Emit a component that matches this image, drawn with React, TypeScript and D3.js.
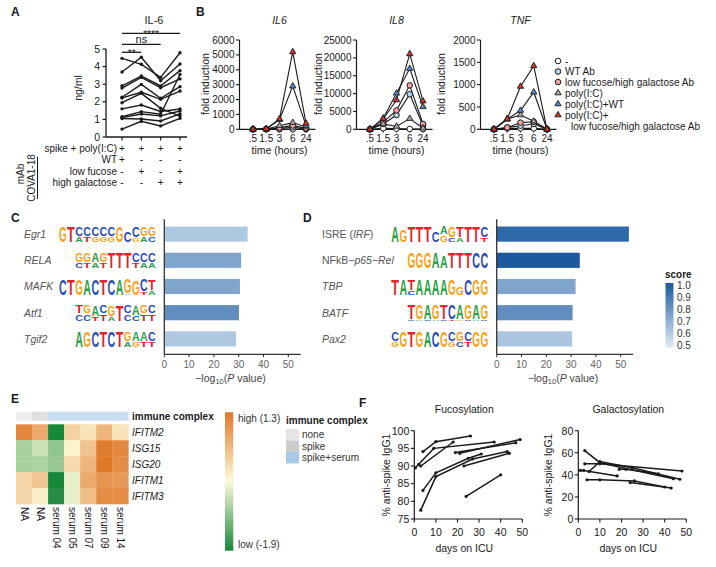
import React from "react";
import * as d3 from "d3";

const FONT = '"Liberation Sans", Arial, Helvetica, sans-serif';
const INK = "#1a1a1a";
const GREY = "#555555";

// ---------------- Panel A data ----------------
const aConditions = ["wt", "lf", "hg", "lfhg"];
const aTicks = [0, 1, 2, 3, 4, 5];
const aSubjects = [
  [4.47, 4.13, 3.39, 4.79],
  [3.69, 4.53, 3.2, 4.15],
  [2.91, 3.47, 2.9, 3.77],
  [2.78, 3.39, 2.8, 3.3],
  [2.26, 2.99, 2.2, 2.86],
  [2.22, 2.54, 2.14, 2.61],
  [1.95, 2.48, 1.63, 1.19],
  [1.6, 1.82, 1.45, 1.59],
  [1.15, 1.44, 1.29, 3.55],
  [1.1, 1.31, 1.2, 1.48],
  [1.05, 1.02, 0.91, 1.31],
  [0.45, 0.89, 0.63, 1.06],
];
const aRowLabels = ["spike + poly(I:C)", "WT", "low fucose", "high galactose"];
const aRowSigns = [
  ["+", "+", "+", "+"],
  ["+", "-", "-", "-"],
  ["-", "+", "-", "+"],
  ["-", "-", "+", "+"],
];
const aSigBars = [
  { from: "wt", to: "lfhg", label: "****" },
  { from: "wt", to: "hg", label: "ns" },
  { from: "wt", to: "lf", label: "**" },
];

// ---------------- Panel B data ----------------
const bTimes = [".5", "1.5", "3", "6", "24"];
const bSeriesNames = [
  "-",
  "WT Ab",
  "low fucose/high galactose Ab",
  "poly(I:C)",
  "poly(I:C)+WT",
  "poly(I:C)+",
];
const bSeriesShapes = ["circle", "circle", "circle", "triangle", "triangle", "triangle"];
const bSeriesColors = ["#ffffff", "#b9d4ee", "#f3a3a3", "#a3a3a3", "#5b86c5", "#d8302c"];
const bIL6 = [
  [0, 0, 0, 0, 0],
  [0, 10, 60, 130, 30],
  [0, 15, 110, 260, 60],
  [0, 20, 240, 450, 150],
  [0, 30, 650, 2900, 250],
  [0, 30, 700, 5200, 400],
];
const bIL8 = [
  [0, 300, 200, 100, 50],
  [0, 1500, 4000, 9800, 1000],
  [0, 2000, 5300, 12300, 1500],
  [0, 1500, 800, 3000, 300],
  [0, 3100, 10100, 17000, 6300],
  [0, 2900, 8200, 21100, 7900],
];
const bTNF = [
  [0, 20, 20, 20, 0],
  [0, 40, 80, 120, 0],
  [0, 40, 150, 170, 0],
  [0, 230, 320, 180, 0],
  [0, 230, 420, 830, 0],
  [0, 230, 960, 1420, 0],
];
const bGenes = ["IL6", "IL8", "TNF"];
const bMax = [6000, 25000, 2000];
const bTicks = [
  [0, 1000, 2000, 3000, 4000, 5000, 6000],
  [0, 5000, 10000, 15000, 20000, 25000],
  [0, 500, 1000, 1500, 2000],
];

// ---------------- Panel C / D data ----------------
const cMotifs = ["Egr1", "RELA", "MAFK", "Atf1", "Tgif2"];
const cPvals = [33.6, 31.0, 30.5, 30.1, 28.9];
const cScores = [0.62, 0.74, 0.74, 0.82, 0.62];
const cLogoMain = ["GTCCCCCGCCGG", "GGAGTTTCCC", "CTGACTCAGGCT", "TGACGTCAGC", "AGCTCTGAAC"];
const cLogoSec = ["..ATGGGT.GAC", "CTAT...TAA", "........A.TA", "CCTTAGCCTT", "......AGTT"];
const cLogoH = ["995555596655", "5555999555", "999999998876", "4464694544", "9999995555"];

const dMotifs = ["ISRE", "NFkB", "TBP", "BATF", "Pax2"];
const dPvals = [53.3, 33.5, 31.8, 30.6, 30.4];
const dScores = [0.95, 1.0, 0.74, 0.82, 0.63];
const dLogoMain = ["AGTTTCAGTTTC", "GGGAATTTCC", "TATAAAAGGCGG", "TGAGTCAGAG", "CGTGACGCGCGG"];
const dLogoSec = ["C.C...GCAC.T", ".....A....", "..C......C..", "CACACTGCAC", "G......GCT.."];
const dLogoH = ["979996466996", "9999799999", "996999994999", "8888888888", "599999955599"];
const pTicks = [0, 10, 20, 30, 40, 50];
const scoreTicks = [1.0, 0.9, 0.8, 0.7, 0.6, 0.5];

// ---------------- Panel E data ----------------
const eSamples = ["NA", "NA ", "serum 04", "serum 05", "serum 07", "serum 09", "serum 14"];
const eComplex = ["none", "spike", "spike+serum", "spike+serum", "spike+serum", "spike+serum", "spike+serum"];
const eGenes = ["IFITM2", "ISG15", "ISG20", "IFITM1", "IFITM3"];
const eValues = [
  [1.1, 0.7, -1.9, 0.2, 0.0, 0.55, 0.0],
  [-0.9, -0.65, -1.05, -0.2, 0.4, 1.25, 1.1],
  [-0.9, -0.85, -1.0, 0.1, 0.55, 1.3, 1.05],
  [0.15, 0.35, -1.9, -0.45, 0.7, 0.95, 0.9],
  [0.15, -0.15, -1.8, -0.45, 0.45, 1.05, 1.05],
];
const eComplexLevels = ["none", "spike", "spike+serum"];
const eComplexColors = ["#e5e5e5", "#cccccc", "#a8c8e8"];

// ---------------- Panel F data ----------------
const fFucLines = [
  [[4, 94.1], [10, 96.9], [26, 98.5]],
  [[0.5, 89.5], [9, 95.0], [37, 96.8]],
  [[2, 90.5], [3, 90.0], [18, 96.8]],
  [[19, 93.8], [47, 96.6]],
  [[21, 93.6], [49, 97.5]],
  [[4, 83.1], [10, 88.1], [25, 92.2], [31, 93.4]],
  [[3, 77.5], [10, 87.0], [27, 92.0], [43, 94.1]],
  [[23, 90.0], [44, 93.6]],
  [[24, 81.4], [40, 87.5]],
];
const fGalLines = [
  [[3, 62], [10, 51], [44, 36.5]],
  [[3, 50], [10, 50], [48, 43.5]],
  [[1, 44], [2.5, 44], [18, 39]],
  [[5, 43], [10, 52], [25, 46.5], [47, 36]],
  [[4, 35.5], [10, 35.5], [26, 34.5], [40, 29]],
  [[24, 33], [43, 28]],
  [[19, 45], [22, 45], [37, 41]],
];
const fDayTicks = [0, 10, 20, 30, 40, 50];
const fFucTicks = [75, 80, 85, 90, 95, 100];
const fGalTicks = [0, 20, 40, 60, 80];

const LETTER_COL: Record<string, string> = { A: "#2ca048", C: "#2a4db5", G: "#f5a21c", T: "#e0252b" };

function Txt(props: any) {
  return <text fontFamily={FONT} fontSize={10} fill={INK} {...props} />;
}

// ---------------- Panel A ----------------
function PanelA() {
  const x = d3.scalePoint<string>().domain(aConditions).range([122, 180]);
  const y = d3.scaleLinear().domain([0, 5]).range([137, 49]);
  const line = d3
    .line<number>()
    .x((_, i) => x(aConditions[i]) as number)
    .y((d) => y(d));
  const sigY = [33.3, 44.3, 52.3];
  const rowY = [151.5, 163, 174.5, 186];
  return (
    <g>
      <Txt x={11} y={16} fontWeight="bold" fontSize={12}>A</Txt>
      <Txt x={154} y={23.5} textAnchor="middle" fontSize={11}>IL-6</Txt>
      {aSigBars.map((s, i) => {
        const x1 = x(s.from) as number;
        const x2 = x(s.to) as number;
        return (
          <g key={i}>
            <line x1={x1} x2={x2} y1={sigY[i]} y2={sigY[i]} stroke={INK} strokeWidth={1.3} />
            <Txt
              x={(x1 + x2) / 2}
              y={s.label === "ns" ? sigY[i] - 1.2 : sigY[i] + 4.2}
              textAnchor="middle"
              fontSize={s.label === "ns" ? 11 : 10}
            >
              {s.label}
            </Txt>
          </g>
        );
      })}
      <line x1={106} x2={106} y1={y(5)} y2={y(0)} stroke={INK} strokeWidth={1.3} />
      {aTicks.map((t) => (
        <g key={t}>
          <line x1={102.5} x2={106} y1={y(t)} y2={y(t)} stroke={INK} strokeWidth={1.2} />
          <Txt x={100} y={y(t) + 3.6} textAnchor="end" fontSize={10.5}>{t}</Txt>
        </g>
      ))}
      <line x1={106} x2={187} y1={y(0)} y2={y(0)} stroke={INK} strokeWidth={1.3} />
      {aConditions.map((c) => (
        <line key={c} x1={x(c)} x2={x(c)} y1={y(0)} y2={y(0) + 3.5} stroke={INK} strokeWidth={1.2} />
      ))}
      <Txt transform={`translate(82,88) rotate(-90)`} textAnchor="middle" fontSize={10.5}>ng/ml</Txt>
      {aSubjects.map((s, i) => (
        <g key={i}>
          <path d={line(s) as string} fill="none" stroke={INK} strokeWidth={1.4} />
          {s.map((v, j) => (
            <circle key={j} cx={x(aConditions[j])} cy={y(v)} r={1.7} fill={INK} />
          ))}
        </g>
      ))}
      {aRowLabels.map((lab, r) => (
        <g key={r}>
          <Txt x={117} y={rowY[r]} textAnchor="end" fontSize={10}>{lab}</Txt>
          {aRowSigns[r].map((sg, j) => (
            <Txt key={j} x={x(aConditions[j])} y={rowY[r]} textAnchor="middle" fontSize={10}>
              {sg}
            </Txt>
          ))}
        </g>
      ))}
      <Txt transform={`translate(24,174) rotate(-90)`} textAnchor="middle" fontSize={10}>mAb</Txt>
      <Txt transform={`translate(35,178) rotate(-90)`} textAnchor="middle" fontSize={10}>COVA1-18</Txt>
      <line x1={37.5} x2={37.5} y1={157} y2={199} stroke={INK} strokeWidth={1} />
    </g>
  );
}

// ---------------- Panel B ----------------
function Marker({ shape, cx, cy, fill }: any) {
  if (shape === "circle") {
    return <circle cx={cx} cy={cy} r={2.8} fill={fill} stroke={INK} strokeWidth={1} />;
  }
  const p = d3.symbol().type(d3.symbolTriangle).size(17)() as string;
  return <path d={p} transform={`translate(${cx},${cy})`} fill={fill} stroke={INK} strokeWidth={0.9} />;
}

function BChart({ idx, x0, labelX }: any) {
  const data = [bIL6, bIL8, bTNF][idx];
  const x = d3.scalePoint<string>().domain(bTimes).range([x0 + 13.5, x0 + 66.5]);
  const y = d3.scaleLinear().domain([0, bMax[idx]]).range([129.3, 40]);
  const line = d3
    .line<number>()
    .x((_, i) => x(bTimes[i]) as number)
    .y((d) => y(d));
  const cx = x0 + 40;
  return (
    <g>
      <Txt x={cx} y={23.5} textAnchor="middle" fontStyle="italic" fontSize={10.5}>{bGenes[idx]}</Txt>
      <line x1={x0} x2={x0} y1={40} y2={129.3} stroke={INK} strokeWidth={1.2} />
      {bTicks[idx].map((t) => (
        <g key={t}>
          <line x1={x0 - 3.5} x2={x0} y1={y(t)} y2={y(t)} stroke={INK} strokeWidth={1.1} />
          <Txt x={x0 - 5} y={y(t) + 3.6} textAnchor="end" fontSize={10}>{t}</Txt>
        </g>
      ))}
      <line x1={x0} x2={x0 + 76} y1={129.3} y2={129.3} stroke={INK} strokeWidth={1.2} />
      {bTimes.map((t) => (
        <g key={t}>
          <line x1={x(t)} x2={x(t)} y1={129.3} y2={132.5} stroke={INK} strokeWidth={1.1} />
          <Txt x={x(t)} y={141.5} textAnchor="middle" fontSize={10}>{t}</Txt>
        </g>
      ))}
      <Txt x={cx} y={154} textAnchor="middle" fontSize={10.5}>time (hours)</Txt>
      <Txt transform={`translate(${labelX},84) rotate(-90)`} textAnchor="middle" fontSize={10.5}>
        fold induction
      </Txt>
      {data.map((s: number[], i: number) => (
        <path key={i} d={line(s) as string} fill="none" stroke={INK} strokeWidth={1.1} />
      ))}
      {data.map((s: number[], i: number) =>
        s.map((v, j) => (
          <Marker key={i + "-" + j} shape={bSeriesShapes[i]} cx={x(bTimes[j])} cy={y(v)} fill={bSeriesColors[i]} />
        ))
      )}
    </g>
  );
}

function PanelB() {
  const legY = [61, 71.5, 82, 93, 104, 115];
  return (
    <g>
      <Txt x={196} y={16} fontWeight="bold" fontSize={12}>B</Txt>
      <BChart idx={0} x0={239.5} labelX={209} />
      <BChart idx={1} x0={356.5} labelX={322} />
      <BChart idx={2} x0={480.5} labelX={445} />
      {bSeriesNames.map((n, i) => (
        <g key={i}>
          <Marker shape={bSeriesShapes[i]} cx={558} cy={legY[i]} fill={bSeriesColors[i]} />
          <Txt x={565} y={legY[i] + 3.6} fontSize={10}>{n}</Txt>
        </g>
      ))}
      <Txt x={571} y={129.6} fontSize={10}>low fucose/high galactose Ab</Txt>
    </g>
  );
}

// ---------------- Panel C / D ----------------
const scoreColor = d3.scaleLinear<string>().domain([0.5, 1.0]).range(["#deebf7", "#1b5a9e"]).interpolate(d3.interpolateRgb);

function Letter({ ch, x, yBottom, w, h }: any) {
  if (ch === "." || h < 0.6) return null;
  const F = 20;
  const sy = h / (0.72 * F);
  return (
    <text
      transform={`translate(${x},${yBottom}) scale(1,${sy})`}
      fontFamily={FONT}
      fontWeight="bold"
      fontSize={F}
      fill={LETTER_COL[ch]}
      textLength={w}
      lengthAdjust="spacingAndGlyphs"
    >
      {ch}
    </text>
  );
}

function Logo({ main, sec, hs, right, yBottom, colW, total }: any) {
  const n = main.length;
  const x0 = right - n * colW;
  return (
    <g>
      {main.split("").map((ch: string, i: number) => {
        const mh = ((+hs[i] + 1) / 10) * total;
        const s = sec[i];
        const sh = s !== "." ? Math.max(0, total - mh - 0.6) : 0;
        const x = x0 + i * colW + 0.2;
        return (
          <g key={i}>
            <Letter ch={s} x={x} yBottom={yBottom} w={colW - 0.4} h={sh} />
            <Letter ch={ch} x={x} yBottom={yBottom - sh - (sh > 0 ? 0.6 : 0)} w={colW - 0.4} h={mh} />
          </g>
        );
      })}
    </g>
  );
}

function MotifChart({ motifs, pvals, scores, mains, secs, hs, axisX, logoRight, labelX, labels }: any) {
  const x = d3.scaleLinear().domain([0, 55]).range([axisX, axisX + 55 * 2.48]);
  const y = d3.scaleBand<string>().domain(motifs).range([221, 352]).paddingInner(0.42).paddingOuter(0.21);
  const axisY = 354.3;
  return (
    <g>
      {motifs.map((m: string, i: number) => {
        const yc = (y(m) as number) + y.bandwidth() / 2;
        return (
          <g key={m}>
            <Txt x={labelX} y={yc + 3.8} fill={GREY} fontSize={10.5}>
              {labels[i]}
            </Txt>
            <Logo main={mains[i]} sec={secs[i]} hs={hs[i]} right={logoRight} yBottom={yc + 8} colW={8.1} total={15.5} />
            <rect x={axisX} y={y(m)} width={x(pvals[i]) - axisX} height={y.bandwidth()} fill={scoreColor(scores[i])} />
          </g>
        );
      })}
      <line x1={axisX} x2={axisX} y1={219.3} y2={axisY} stroke="#333" strokeWidth={1.3} />
      <line x1={axisX} x2={x(55)} y1={axisY} y2={axisY} stroke="#333" strokeWidth={1.3} />
      {pTicks.map((t) => (
        <g key={t}>
          <line x1={x(t)} x2={x(t)} y1={axisY} y2={axisY + 3} stroke="#333" strokeWidth={1} />
          <Txt x={x(t)} y={368} textAnchor="middle" fill="#666" fontSize={10}>{t}</Txt>
        </g>
      ))}
      <Txt x={(x(0) + x(55)) / 2 - 2} y={381.5} textAnchor="middle" fill="#444" fontSize={10.5}>
        −log
        <tspan fontSize={7.5} dy={2.5}>10</tspan>
        <tspan dy={-2.5}>(</tspan>
        <tspan fontStyle="italic">P</tspan>
        <tspan> value)</tspan>
      </Txt>
    </g>
  );
}

function PanelCD() {
  const cLabels = cMotifs.map((m) => (
    <tspan fontStyle="italic">{m}</tspan>
  ));
  const dLabels = [
    <>
      ISRE (<tspan fontStyle="italic">IRF</tspan>)
    </>,
    <>
      NFkB−<tspan fontStyle="italic">p65−Rel</tspan>
    </>,
    <tspan fontStyle="italic">TBP</tspan>,
    <tspan fontStyle="italic">BATF</tspan>,
    <tspan fontStyle="italic">Pax2</tspan>,
  ];
  return (
    <g>
      <Txt x={11} y={222} fontWeight="bold" fontSize={12}>C</Txt>
      <Txt x={303} y={222} fontWeight="bold" fontSize={12}>D</Txt>
      <MotifChart
        motifs={cMotifs}
        pvals={cPvals}
        scores={cScores}
        mains={cLogoMain}
        secs={cLogoSec}
        hs={cLogoH}
        axisX={164.3}
        logoRight={156}
        labelX={24}
        labels={cLabels}
      />
      <MotifChart
        motifs={dMotifs}
        pvals={dPvals}
        scores={dScores}
        mains={dLogoMain}
        secs={dLogoSec}
        hs={dLogoH}
        axisX={496.7}
        logoRight={488.3}
        labelX={322}
        labels={dLabels}
      />
      <defs>
        <linearGradient id="scoreGrad" x1="0" y1="1" x2="0" y2="0">
          <stop offset="0%" stopColor={scoreColor(0.5)} />
          <stop offset="100%" stopColor={scoreColor(1.0)} />
        </linearGradient>
      </defs>
      <Txt x={665} y={278} fontWeight="bold" fontSize={10}>score</Txt>
      <rect x={665.5} y={283} width={8} height={64.5} fill="url(#scoreGrad)" />
      {scoreTicks.map((t, i) => {
        const yy = d3.scaleLinear().domain([1.0, 0.5]).range([285.5, 345])(t);
        return (
          <Txt key={i} x={677} y={yy + 3.6} fontSize={10} fill="#333">
            {t.toFixed(1)}
          </Txt>
        );
      })}
    </g>
  );
}

// ---------------- Panel E ----------------
const heatColor = d3
  .scaleLinear<string>()
  .domain([-1.9, -0.3, 1.3])
  .range(["#17873a", "#fdfbd9", "#e0782a"])
  .interpolate(d3.interpolateRgb);

function PanelE() {
  const x = d3.scaleBand<string>().domain(eSamples).range([16, 128.3]);
  const y = d3.scaleBand<string>().domain(eGenes).range([424.3, 504]);
  const cMap = d3.scaleOrdinal<string, string>().domain(eComplexLevels).range(eComplexColors);
  return (
    <g>
      <Txt x={11} y={403} fontWeight="bold" fontSize={12}>E</Txt>
      {eSamples.map((s, j) => (
        <rect key={s} x={x(s)} y={411.7} width={x.bandwidth() + 0.3} height={9} fill={cMap(eComplex[j])} opacity={0.6} />
      ))}
      <Txt x={132} y={420} fontWeight="bold" fontSize={10}>immune complex</Txt>
      {eGenes.map((g, i) => (
        <g key={g}>
          {eSamples.map((s, j) => (
            <rect
              key={s}
              x={x(s)}
              y={y(g)}
              width={x.bandwidth() + 0.3}
              height={y.bandwidth() + 0.3}
              fill={heatColor(eValues[i][j])}
            />
          ))}
          <Txt x={132} y={(y(g) as number) + y.bandwidth() / 2 + 3.8} fontStyle="italic" fontSize={10}>
            {g}
          </Txt>
        </g>
      ))}
      {eSamples.map((s) => (
        <Txt
          key={s}
          transform={`translate(${(x(s) as number) + x.bandwidth() / 2},507) rotate(90)`}
          dy="0.35em"
          fontSize={10}
        >
          {s.trim()}
        </Txt>
      ))}
      <defs>
        <linearGradient id="heatGrad" x1="0" y1="1" x2="0" y2="0">
          <stop offset="0%" stopColor={heatColor(-1.9)} />
          <stop offset="50%" stopColor={heatColor(-0.3)} />
          <stop offset="100%" stopColor={heatColor(1.3)} />
        </linearGradient>
      </defs>
      <rect x={225} y={412.3} width={8.3} height={138.4} fill="url(#heatGrad)" />
      <Txt x={238} y={422} fontSize={10} fill="#333">high (1.3)</Txt>
      <Txt x={238} y={548} fontSize={10} fill="#333">low (-1.9)</Txt>
      <Txt x={286} y={423.5} fontWeight="bold" fontSize={10}>immune complex</Txt>
      {eComplexLevels.map((lv, i) => (
        <g key={lv}>
          <rect x={286} y={429 + i * 11.5} width={13} height={11.5} fill={eComplexColors[i]} />
          <Txt x={302} y={438 + i * 11.5} fontSize={10} fill="#333">{lv}</Txt>
        </g>
      ))}
    </g>
  );
}

// ---------------- Panel F ----------------
function FChart({ title, lines, x0, yDomain, yTicks, yLabelX }: any) {
  const x = d3.scaleLinear().domain([0, 50]).range([x0, x0 + 108]);
  const y = d3.scaleLinear().domain(yDomain).range([519, 430.7]);
  const line = d3
    .line<number[]>()
    .x((d) => x(d[0]))
    .y((d) => y(d[1]));
  const cx = x0 + 50;
  return (
    <g>
      <Txt x={cx} y={413} textAnchor="middle" fontSize={10.5}>{title}</Txt>
      <line x1={x0} x2={x0} y1={430.7} y2={519} stroke={INK} strokeWidth={1.2} />
      <line x1={x0} x2={x0 + 108} y1={519} y2={519} stroke={INK} strokeWidth={1.2} />
      {yTicks.map((t: number) => (
        <g key={t}>
          <line x1={x0 - 3.5} x2={x0} y1={y(t)} y2={y(t)} stroke={INK} strokeWidth={1.1} />
          <Txt x={x0 - 5} y={y(t) + 3.8} textAnchor="end" fontSize={10.5}>{t}</Txt>
        </g>
      ))}
      {fDayTicks.map((t) => (
        <g key={t}>
          <line x1={x(t)} x2={x(t)} y1={519} y2={522.5} stroke={INK} strokeWidth={1.1} />
          <Txt x={x(t)} y={535.5} textAnchor="middle" fontSize={10.5}>{t}</Txt>
        </g>
      ))}
      <Txt x={cx} y={552} textAnchor="middle" fontSize={10.5}>days on ICU</Txt>
      <Txt transform={`translate(${yLabelX},475) rotate(-90)`} textAnchor="middle" fontSize={10.5}>
        % anti-spike IgG1
      </Txt>
      {lines.map((l: number[][], i: number) => (
        <g key={i}>
          <path d={line(l) as string} fill="none" stroke={INK} strokeWidth={1.5} />
          {l.map((p, j) => (
            <circle key={j} cx={x(p[0])} cy={y(p[1])} r={1.6} fill={INK} />
          ))}
        </g>
      ))}
    </g>
  );
}

function PanelF() {
  return (
    <g>
      <Txt x={359} y={407} fontWeight="bold" fontSize={12}>F</Txt>
      <FChart title="Fucosylation" lines={fFucLines} x0={414.3} yDomain={[75, 100]} yTicks={fFucTicks} yLabelX={390} />
      <FChart title="Galactosylation" lines={fGalLines} x0={578.3} yDomain={[0, 80]} yTicks={fGalTicks} yLabelX={552} />
    </g>
  );
}

export default function App() {
  return (
    <svg
      width={716}
      height={567}
      style={{ position: "absolute", left: 0, top: 0, background: "#fff" }}
      fontFamily={FONT}
    >
      <rect width={716} height={567} fill="#fff" />
      <PanelA />
      <PanelB />
      <PanelCD />
      <PanelE />
      <PanelF />
    </svg>
  );
}
